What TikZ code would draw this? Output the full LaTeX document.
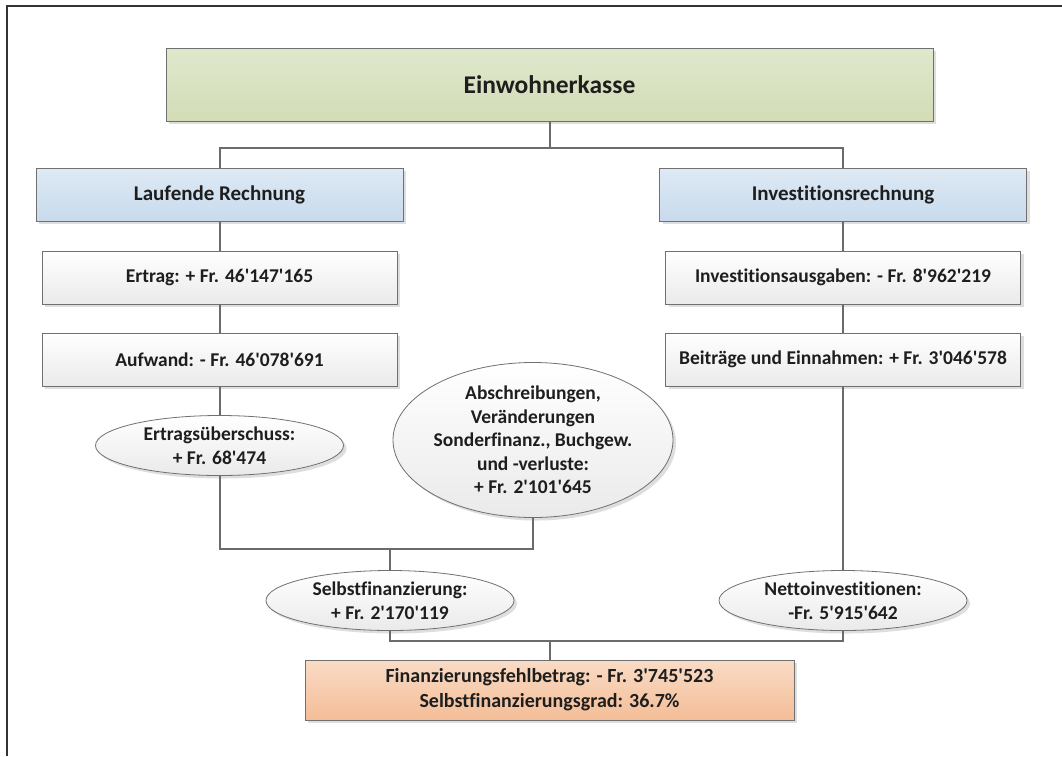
\documentclass[tikz,border=0pt]{standalone}
\usepackage{fontspec}
\setmainfont{Carlito}[Ligatures={TeXOff,NoCommon}]
\usetikzlibrary{shapes.geometric,shadows}
\definecolor{linec}{HTML}{6B6B6B}
\definecolor{bordc}{HTML}{707070}
\definecolor{txtc}{HTML}{1E1E1E}
\definecolor{gtop}{HTML}{E0E8CD}
\definecolor{gbot}{HTML}{D2DCB5}
\definecolor{btop}{HTML}{DEEAF5}
\definecolor{bbot}{HTML}{C8DAEC}
\definecolor{otop}{HTML}{F9DBC5}
\definecolor{obot}{HTML}{F4BD97}
\definecolor{wbot}{HTML}{EAEAEA}
\definecolor{frmc}{HTML}{333333}
\tikzset{
  shad/.style={drop shadow={shadow xshift=3pt,shadow yshift=-3pt,fill=black!13,opacity=1}},
  box/.style={rectangle, draw=bordc, line width=0.8pt, inner sep=0pt, shad, text=txtc, align=center},
  titlebox/.style={box, top color=gtop, bottom color=gbot, minimum width=767, minimum height=73, font=\fontsize{25.5}{30}\selectfont\bfseries},
  headbox/.style={box, top color=btop, bottom color=bbot, minimum width=367, minimum height=53, font=\fontsize{21}{25}\selectfont\bfseries},
  itembox/.style={box, top color=white, bottom color=wbot, minimum width=355, minimum height=53, font=\fontsize{19.5}{24}\selectfont\bfseries},
  resbox/.style={box, top color=otop, bottom color=obot, minimum width=489, minimum height=60, font=\fontsize{20}{25}\selectfont\bfseries},
  ell/.style={ellipse, draw=bordc, line width=0.8pt, inner sep=0pt, shad, top color=white, bottom color=wbot},
  etxt/.style={inner sep=0pt, align=center, text=txtc, font=\fontsize{19.5}{23.5}\selectfont\bfseries},
  conn/.style={draw=linec, line width=2pt},
  frame/.style={draw=frmc, line width=2pt}
}
\begin{document}
\begin{tikzpicture}[x=1pt,y=-1pt]
\useasboundingbox (0,0) rectangle (1062,756);
\fill[white] (0,0) rectangle (1062,756);
\draw[frame] (7,756) -- (7,6) -- (1062,6);

\coordinate (j1) at (549.5,148);
\coordinate (j2) at (390,549);
\coordinate (j3) at (549.5,641);

\node[titlebox] (top) at (549.5,84.5) {Einwohnerkasse};
\node[headbox] (lr) at (219.5,194.5) {Laufende Rechnung};
\node[headbox] (ir) at (843,194.5) {Investitionsrechnung};
\node[itembox] (ertrag) at (219.5,277.5) {Ertrag: + Fr. 46'147'165};
\node[itembox] (aufw) at (219.5,359.5) {Aufwand: - Fr. 46'078'691};
\node[itembox] (inva) at (843,277.5) {Investitionsausgaben: - Fr. 8'962'219};
\node[itembox] (beit) at (843,359.5) {Beiträge und Einnahmen: + Fr. 3'046'578};

\node[ell, minimum width=248, minimum height=60] (e1) at (219.5,445.5) {};
\node[etxt] (e1t) at (e1.center) {Ertragsüberschuss:\\+ Fr. 68'474};
\node[ell, minimum width=280, minimum height=155] (e2) at (533,440) {};
\node[etxt] (e2t) at (e2.center) {Abschreibungen,\\Veränderungen\\Sonderfinanz., Buchgew.\\und -verluste:\\+ Fr. 2'101'645};
\node[ell, minimum width=248, minimum height=60] (e3) at (390,600.5) {};
\node[etxt] (e3t) at (e3.center) {Selbstfinanzierung:\\+ Fr. 2'170'119};
\node[ell, minimum width=248, minimum height=60] (e4) at (843,600.5) {};
\node[etxt] (e4t) at (e4.center) {Nettoinvestitionen:\\-Fr. 5'915'642};

\node[resbox] (fin) at (549.5,690) {Finanzierungsfehlbetrag: - Fr. 3'745'523\\Selbstfinanzierungsgrad: 36.7\%};

\draw[conn] (top.south) -- (j1) -| (lr.north);
\draw[conn] (j1) -| (ir.north);
\draw[conn] (lr.south) -- (ertrag.north);
\draw[conn] (ertrag.south) -- (aufw.north);
\draw[conn] (aufw.south) -- (e1.north);
\draw[conn] (e1.south) |- (e2.south |- j2) -- (e2.south);
\draw[conn] (j2) -- (e3.north);
\draw[conn] (ir.south) -- (inva.north);
\draw[conn] (inva.south) -- (beit.north);
\draw[conn] (beit.south) -- (e4.north);
\draw[conn] (e3.south) |- (e4.south |- j3) -- (e4.south);
\draw[conn] (j3) -- (fin.north);
\end{tikzpicture}
\end{document}
